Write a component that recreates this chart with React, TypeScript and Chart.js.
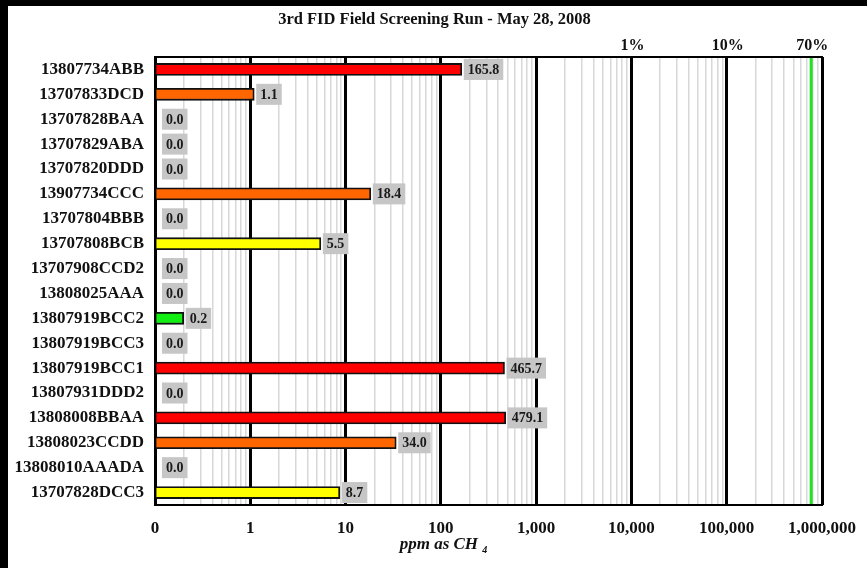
import React, { useEffect, useRef } from "react";
import { Chart, registerables } from "chart.js";
Chart.register(...registerables);

const titleText = "3rd FID Field Screening Run - May 28, 2008";
const categories = [
  "13807734ABB", "13707833DCD", "13707828BAA", "13707829ABA", "13707820DDD",
  "13907734CCC", "13707804BBB", "13707808BCB", "13707908CCD2", "13808025AAA",
  "13807919BCC2", "13807919BCC3", "13807919BCC1", "13807931DDD2", "13808008BBAA",
  "13808023CCDD", "13808010AAADA", "13707828DCC3",
];
const values = [165.8, 1.1, 0.0, 0.0, 0.0, 18.4, 0.0, 5.5, 0.0, 0.0, 0.2, 0.0, 465.7, 0.0, 479.1, 34.0, 0.0, 8.7];
const barColors = [
  "#ff0000", "#ff6600", "#bbbbbb", "#bbbbbb", "#bbbbbb",
  "#ff6600", "#bbbbbb", "#ffff00", "#bbbbbb", "#bbbbbb",
  "#11ee11", "#bbbbbb", "#ff0000", "#bbbbbb", "#ff0000",
  "#ff6600", "#bbbbbb", "#ffff00",
];
const xTickValues = [0.1, 1, 10, 100, 1000, 10000, 100000, 1000000];
const xTickLabels = ["0", "1", "10", "100", "1,000", "10,000", "100,000", "1,000,000"];
const minorMultipliers = [2, 3, 4, 5, 6, 7, 8, 9];
const topMarkerValues = [10000, 100000, 770000];
const topMarkerLabels = ["1%", "10%", "70%"];
const thresholdLineValue = 770000;
const axisTitleMain = "ppm as CH";
const axisTitleSub = "4";

const SERIF = '"Liberation Serif", "Times New Roman", serif';

function isMajor(v: number) {
  return xTickValues.some((d) => Math.abs(d - v) < d * 1e-6);
}

const decorPlugin = {
  id: "decor",
  afterDatasetsDraw(chart: any) {
    const { ctx, chartArea: a } = chart;
    const x = chart.scales.x;
    ctx.save();
    const gx = x.getPixelForValue(thresholdLineValue);
    ctx.strokeStyle = "#22e022";
    ctx.lineWidth = 3;
    ctx.beginPath();
    ctx.moveTo(gx, a.top);
    ctx.lineTo(gx, a.bottom);
    ctx.stroke();
    ctx.strokeStyle = "#000";
    ctx.lineWidth = 2;
    ctx.strokeRect(a.left, a.top, a.right - a.left, a.bottom - a.top);
    const meta = chart.getDatasetMeta(0);
    ctx.font = `bold 14px ${SERIF}`;
    ctx.textBaseline = "middle";
    ctx.textAlign = "left";
    meta.data.forEach((el: any, i: number) => {
      const txt = values[i].toFixed(1);
      const w = ctx.measureText(txt).width + 8;
      const h = 21;
      const bx = el.x + (values[i] === 0 ? 7 : 2);
      ctx.fillStyle = "#c6c6c6";
      ctx.fillRect(bx, el.y - h / 2, w, h);
      ctx.fillStyle = "#1a1a1a";
      ctx.fillText(txt, bx + 4, el.y + 1);
    });
    ctx.restore();
  },
  afterDraw(chart: any) {
    const { ctx, width } = chart;
    const x = chart.scales.x;
    ctx.save();
    ctx.fillStyle = "#111";
    ctx.textBaseline = "middle";
    ctx.textAlign = "center";
    ctx.font = `bold 16.5px ${SERIF}`;
    ctx.fillText(titleText, width / 2 - 3, 14);
    ctx.font = `bold 16px ${SERIF}`;
    topMarkerValues.forEach((v, i) => {
      ctx.fillText(topMarkerLabels[i], x.getPixelForValue(v) + 1, 40);
    });
    ctx.font = `italic bold 17px ${SERIF}`;
    const mw = ctx.measureText(axisTitleMain + " ").width;
    ctx.font = `italic bold 10px ${SERIF}`;
    const sw = ctx.measureText(axisTitleSub).width;
    const cx = width / 2 + 6;
    const sx = cx - (mw + sw) / 2;
    ctx.textAlign = "left";
    ctx.font = `italic bold 17px ${SERIF}`;
    ctx.fillText(axisTitleMain + " ", sx, 539);
    ctx.font = `italic bold 10px ${SERIF}`;
    ctx.fillText(axisTitleSub, sx + mw, 544);
    ctx.restore();
  },
};

export default function App() {
  const ref = useRef<HTMLCanvasElement>(null);
  useEffect(() => {
    document.body.style.background = "#000";
    const allTicks: number[] = [];
    for (let i = 0; i < xTickValues.length - 1; i++) {
      allTicks.push(xTickValues[i]);
      minorMultipliers.forEach((m) => allTicks.push(xTickValues[i] * m));
    }
    allTicks.push(xTickValues[xTickValues.length - 1]);

    const chart = new Chart(ref.current!, {
      type: "bar",
      data: {
        labels: categories,
        datasets: [
          {
            data: values,
            backgroundColor: barColors,
            borderColor: "#111",
            borderWidth: 1.8,
            borderSkipped: false,
            barThickness: 12,
          },
        ],
      },
      options: {
        indexAxis: "y",
        responsive: false,
        animation: false,
        layout: { padding: { top: 51, right: 45, left: 0, bottom: 0 } },
        plugins: { legend: { display: false }, tooltip: { enabled: false }, title: { display: false } },
        scales: {
          x: {
            type: "logarithmic",
            min: 0.1,
            max: 1000000,
            afterBuildTicks: (scale: any) => {
              scale.ticks = allTicks.map((v) => ({ value: v, major: isMajor(v) }));
            },
            afterFit: (scale: any) => {
              scale.height = 63;
              scale.paddingRight = 0;
              scale.paddingLeft = 0;
            },
            grid: {
              drawTicks: false,
              color: (c: any) => (c.tick && isMajor(c.tick.value) ? "#000" : "#d8d8d8"),
              lineWidth: (c: any) => (c.tick && isMajor(c.tick.value) ? 3 : 1.5),
            },
            border: { display: false },
            ticks: {
              autoSkip: false,
              maxRotation: 0,
              padding: 13,
              color: "#111",
              font: { family: SERIF, size: 17, weight: "bold" },
              callback: (v: any) => {
                const i = xTickValues.findIndex((d) => Math.abs(d - Number(v)) < d * 1e-6);
                return i >= 0 ? xTickLabels[i] : "";
              },
            },
          },
          y: {
            type: "category",
            afterFit: (scale: any) => {
              scale.width = 147;
            },
            grid: { display: false, drawTicks: false },
            border: { display: false },
            ticks: {
              padding: 11,
              color: "#111",
              font: { family: SERIF, size: 17, weight: "bold" },
            },
          },
        },
      } as any,
      plugins: [decorPlugin],
    });
    return () => chart.destroy();
  }, []);

  return (
    <div style={{ position: "absolute", left: 8, top: 6, width: 859, height: 562, background: "#fff" }}>
      <canvas ref={ref} width={859} height={562} style={{ display: "block" }} />
    </div>
  );
}
